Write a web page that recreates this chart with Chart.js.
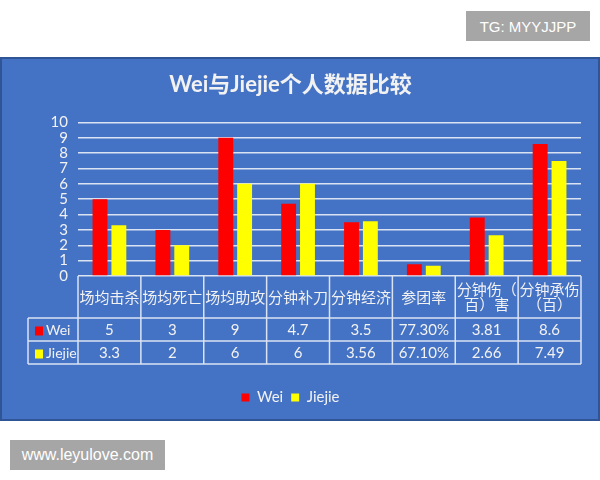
<!DOCTYPE html>
<html>
<head>
<meta charset="utf-8">
<title>Wei与Jiejie个人数据比较</title>
<script src="https://cdn.jsdelivr.net/npm/chart.js@4.4.1/dist/chart.umd.min.js"></script>
<style>
  html, body { margin: 0; padding: 0; background: #fff; }
  body { width: 600px; height: 480px; position: relative; overflow: hidden; }
  .tag {
    position: absolute; background: #a6a6a6; color: #fff;
    font-family: 'Liberation Sans', Arial, sans-serif;
    display: flex; align-items: center; justify-content: center;
  }
  #tg { left: 466px; top: 11px; width: 124px; height: 30px; font-size: 15px; }
  #site { left: 10px; top: 440px; width: 155px; height: 30px; font-size: 16px; }
  #panel {
    position: absolute; left: 0; top: 57px; width: 600px; height: 364px;
    box-sizing: border-box; background: #4472c4; border: 2px solid #2f5597;
  }
  #my-chart { position: absolute; left: 0; top: 57px; }
</style>
</head>
<body>
<div class="tag" id="tg">TG: MYYJJPP</div>
<div id="panel"></div>
<canvas id="my-chart" width="600" height="364"></canvas>
<div class="tag" id="site">www.leyulove.com</div>

<script>
'use strict';

// ******** DATA **************
let categories = ['场均击杀', '场均死亡', '场均助攻', '分钟补刀', '分钟经济', '参团率', ['分钟伤（', '百）害'], ['分钟承伤', '（百）']];
let seriesNames = ['Wei', 'Jiejie'];
let seriesColors = ['#ff0000', '#ffff00'];

// bar heights (参团率 is plotted as a fraction on the same axis)
let weiValues = [5, 3, 9, 4.7, 3.5, 0.773, 3.81, 8.6];
let jiejieValues = [3.3, 2, 6, 6, 3.56, 0.671, 2.66, 7.49];

// what the data table under the chart shows
let weiTable = ['5', '3', '9', '4.7', '3.5', '77.30%', '3.81', '8.6'];
let jiejieTable = ['3.3', '2', '6', '6', '3.56', '67.10%', '2.66', '7.49'];

let yTicks = [0, 1, 2, 3, 4, 5, 6, 7, 8, 9, 10];

// ******** STYLE BITS **************
const textColor = '#f2f2f2';
const lineColor = '#dae3f3';
const latin = "Lato, 'Noto Sans CJK SC', sans-serif";
const cjk = "'Noto Sans CJK SC', sans-serif";

// *** draws the excel style data table under the bars (header = category labels) ***
const tablePlugin = {
  id: 'dataTable',
  afterDraw(chart) {
    const ctx = chart.ctx;
    const xScale = chart.scales.x;
    const area = chart.chartArea;
    const step = (area.right - area.left) / weiValues.length;
    const top = area.bottom;
    const headH = 42;
    const rowH = 23;
    const r1 = top + headH;
    const r2 = r1 + rowH;
    const r3 = r2 + rowH;
    const labelLeft = 28;

    ctx.save();
    ctx.strokeStyle = lineColor;
    ctx.lineWidth = 1.5;
    ctx.beginPath();
    [r1, r2, r3].forEach(function (y) {
      ctx.moveTo(labelLeft, y);
      ctx.lineTo(area.right, y);
    });
    for (let i = 0; i <= weiValues.length; i++) {
      let xx = xScale.getPixelForValue(0) - step / 2 + i * step;
      ctx.moveTo(xx, top);
      ctx.lineTo(xx, r3);
    }
    ctx.moveTo(labelLeft, r1);
    ctx.lineTo(labelLeft, r3);
    ctx.stroke();

    ctx.fillStyle = textColor;
    ctx.textBaseline = 'middle';
    ctx.textAlign = 'center';

    // header row: category names
    ctx.font = '15px ' + cjk;
    let headMid = top + headH / 2;
    for (let i = 0; i < categories.length; i++) {
      let lines = Array.isArray(categories[i]) ? categories[i] : [categories[i]];
      let lh = 15;
      let y0 = headMid - (lines.length - 1) * lh / 2;
      for (let j = 0; j < lines.length; j++) {
        ctx.fillText(lines[j], xScale.getPixelForValue(i), y0 + j * lh);
      }
    }

    // value rows
    let rows = [weiTable, jiejieTable];
    for (let r = 0; r < rows.length; r++) {
      let cy = r1 + rowH * r + rowH / 2 + 1;
      ctx.fillStyle = seriesColors[r];
      ctx.fillRect(35, cy - 4, 8, 9);
      ctx.fillStyle = textColor;
      ctx.textAlign = 'left';
      ctx.font = '14px ' + latin;
      ctx.fillText(seriesNames[r], 46, cy);
      ctx.textAlign = 'center';
      ctx.font = '15px ' + latin;
      for (let i = 0; i < rows[r].length; i++) {
        ctx.fillText(rows[r][i], xScale.getPixelForValue(i), cy);
      }
    }
    ctx.restore();
  }
};

let canvasElem = document.getElementById('my-chart');

let myObj = {
  type: 'bar',
  data: {
    labels: categories,
    datasets: [{
      label: seriesNames[0],
      data: weiValues,
      backgroundColor: seriesColors[0],
      borderWidth: 0,
      categoryPercentage: 0.6,
      barPercentage: 0.79
    },
    {
      label: seriesNames[1],
      data: jiejieValues,
      backgroundColor: seriesColors[1],
      borderWidth: 0,
      categoryPercentage: 0.6,
      barPercentage: 0.79
    }]
  },
  options: {
    responsive: false,
    animation: false,
    layout: {
      padding: { left: 0, right: 19, top: 0, bottom: 6 }
    },
    scales: {
      x: {
        grid: { display: false },
        border: { display: false },
        ticks: { display: false },
        afterFit(scale) {
          scale.height = 106;
        }
      },
      y: {
        min: 0,
        max: 10,
        afterBuildTicks(scale) {
          scale.ticks = yTicks.map(function (v) { return { value: v }; });
        },
        grid: { color: lineColor, lineWidth: 1.5, drawTicks: false },
        border: { display: false },
        ticks: {
          color: textColor,
          font: { family: latin, size: 15, lineHeight: 1.0 },
          padding: 10,
          autoSkip: false
        },
        afterFit(scale) {
          scale.width = 78;
        }
      }
    },
    plugins: {
      title: {
        display: true,
        text: 'Wei与Jiejie个人数据比较',
        color: textColor,
        font: { family: latin, size: 22, weight: 'bold' },
        padding: { top: 15, bottom: 24 }
      },
      legend: {
        position: 'bottom',
        labels: {
          color: textColor,
          font: { family: latin, size: 15 },
          boxWidth: 8,
          boxHeight: 8,
          padding: 8
        }
      },
      tooltip: { enabled: false }
    }
  },
  plugins: [tablePlugin]
};

new Chart(canvasElem, myObj);
</script>
</body>
</html>
